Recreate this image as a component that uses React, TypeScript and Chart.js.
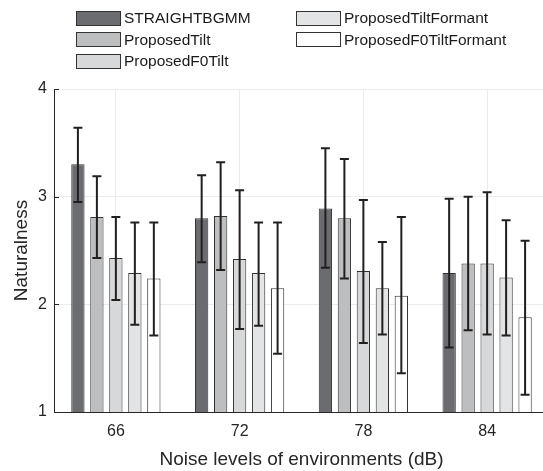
import React, { useEffect, useRef } from "react";
import { Chart, registerables } from "chart.js";

Chart.register(...registerables);

const categories = ["66", "72", "78", "84"];
const seriesNames = [
  "STRAIGHTBGMM",
  "ProposedTilt",
  "ProposedF0Tilt",
  "ProposedTiltFormant",
  "ProposedF0TiltFormant",
];
const straightBGMM = [3.3, 2.8, 2.89, 2.29];
const proposedTilt = [2.81, 2.82, 2.8, 2.38];
const proposedF0Tilt = [2.43, 2.42, 2.31, 2.38];
const proposedTiltFormant = [2.29, 2.29, 2.15, 2.25];
const proposedF0TiltFormant = [2.24, 2.15, 2.08, 1.88];

const straightBGMMHi = [3.64, 3.2, 3.45, 2.98];
const straightBGMMLo = [2.95, 2.39, 2.34, 1.6];
const proposedTiltHi = [3.19, 3.32, 3.35, 3.0];
const proposedTiltLo = [2.43, 2.32, 2.24, 1.76];
const proposedF0TiltHi = [2.81, 3.06, 2.97, 3.04];
const proposedF0TiltLo = [2.04, 1.77, 1.64, 1.72];
const proposedTiltFormantHi = [2.76, 2.76, 2.58, 2.78];
const proposedTiltFormantLo = [1.81, 1.8, 1.72, 1.71];
const proposedF0TiltFormantHi = [2.76, 2.76, 2.81, 2.59];
const proposedF0TiltFormantLo = [1.71, 1.54, 1.36, 1.16];

const yTicks = [1, 2, 3, 4];

const colors = ["#6b6c70", "#bdbec0", "#d7d8da", "#e3e4e5", "#ffffff"];
const FONT = "'Liberation Sans', Arial, Helvetica, sans-serif";

const values = [straightBGMM, proposedTilt, proposedF0Tilt, proposedTiltFormant, proposedF0TiltFormant];
const his = [straightBGMMHi, proposedTiltHi, proposedF0TiltHi, proposedTiltFormantHi, proposedF0TiltFormantHi];
const los = [straightBGMMLo, proposedTiltLo, proposedF0TiltLo, proposedTiltFormantLo, proposedF0TiltFormantLo];

const errorBarPlugin = {
  id: "errorBars",
  afterDatasetsDraw(chart: any) {
    const ctx = chart.ctx;
    const y = chart.scales.y;
    const area = chart.chartArea;
    ctx.save();
    // inward ticks on y axis
    ctx.strokeStyle = "#262626";
    ctx.lineWidth = 1;
    yTicks.forEach((t) => {
      const py = Math.round(y.getPixelForValue(t)) + 0.5;
      ctx.beginPath();
      ctx.moveTo(area.left, py);
      ctx.lineTo(area.left + 5, py);
      ctx.stroke();
    });
    ctx.strokeStyle = "#231f20";
    ctx.lineWidth = 2;
    chart.data.datasets.forEach((ds: any, di: number) => {
      const meta = chart.getDatasetMeta(di);
      meta.data.forEach((bar: any, i: number) => {
        const x = bar.x;
        const yHi = y.getPixelForValue(his[di][i]);
        const yLo = y.getPixelForValue(los[di][i]);
        const cap = 4.5;
        ctx.beginPath();
        ctx.moveTo(x, yHi);
        ctx.lineTo(x, yLo);
        ctx.moveTo(x - cap, yHi);
        ctx.lineTo(x + cap, yHi);
        ctx.moveTo(x - cap, yLo);
        ctx.lineTo(x + cap, yLo);
        ctx.stroke();
      });
    });
    ctx.restore();
  },
};

export default function App() {
  const ref = useRef<HTMLCanvasElement | null>(null);
  useEffect(() => {
    document.body.style.margin = "0";
    const canvas = ref.current!;
    const chart = new Chart(canvas, {
      type: "bar",
      data: {
        labels: categories,
        datasets: seriesNames.map((name, i) => ({
          label: name,
          data: values[i],
          backgroundColor: colors[i],
          borderColor: "#333333",
          borderWidth: 1,
          categoryPercentage: 0.767,
          barPercentage: 0.7,
        })),
      },
      options: {
        animation: false,
        responsive: false,
        devicePixelRatio: 1,
        layout: { padding: { top: 89, left: 0, right: 0, bottom: 0 } },
        plugins: { legend: { display: false }, tooltip: { enabled: false } },
        scales: {
          x: {
            grid: { color: "#ebebeb", offset: false, drawTicks: false, lineWidth: 1 },
            border: { color: "#262626", width: 1 },
            ticks: { color: "#262626", font: { family: FONT, size: 16 }, padding: 10 },
            title: {
              display: true,
              text: "Noise levels of environments (dB)",
              color: "#262626",
              font: { family: FONT, size: 19 },
              padding: { top: 0, bottom: 0 },
            },
            afterFit(scale: any) {
              scale.height = 59;
            },
          },
          y: {
            min: 1,
            max: 4,
            afterBuildTicks(scale: any) {
              scale.ticks = yTicks.map((v) => ({ value: v }));
            },
            grid: { color: "#ebebeb", drawTicks: false },
            border: { color: "#262626", width: 1 },
            ticks: { color: "#262626", font: { family: FONT, size: 16 }, padding: 7 },
            title: {
              display: true,
              text: "Naturalness",
              color: "#262626",
              font: { family: FONT, size: 19 },
              padding: { top: 10, bottom: 0 },
            },
            afterFit(scale: any) {
              scale.width = 54;
            },
          },
        },
      },
      plugins: [errorBarPlugin],
    });
    return () => chart.destroy();
  }, []);

  const legendItem = (i: number, left: number, top: number) => (
    <div
      key={i}
      style={{ position: "absolute", left, top, display: "flex", alignItems: "center", height: 14 }}
    >
      <div
        style={{
          width: 43,
          height: 13,
          background: colors[i],
          border: "1px solid #333",
          boxSizing: "content-box",
        }}
      />
      <span
        style={{
          marginLeft: 3,
          fontFamily: FONT,
          fontSize: 15.5,
          color: "#1a1a1a",
          whiteSpace: "nowrap",
          lineHeight: "14px",
        }}
      >
        {seriesNames[i]}
      </span>
    </div>
  );

  return (
    <div
      style={{
        position: "fixed",
        left: 0,
        top: 0,
        width: 543,
        height: 471,
        overflow: "hidden",
        background: "#fff",
      }}
    >
      <canvas ref={ref} width={549} height={471} style={{ position: "absolute", left: 0, top: 0 }} />
      {legendItem(0, 76, 11)}
      {legendItem(1, 76, 32.5)}
      {legendItem(2, 76, 54)}
      {legendItem(3, 296, 11)}
      {legendItem(4, 296, 32.5)}
    </div>
  );
}
